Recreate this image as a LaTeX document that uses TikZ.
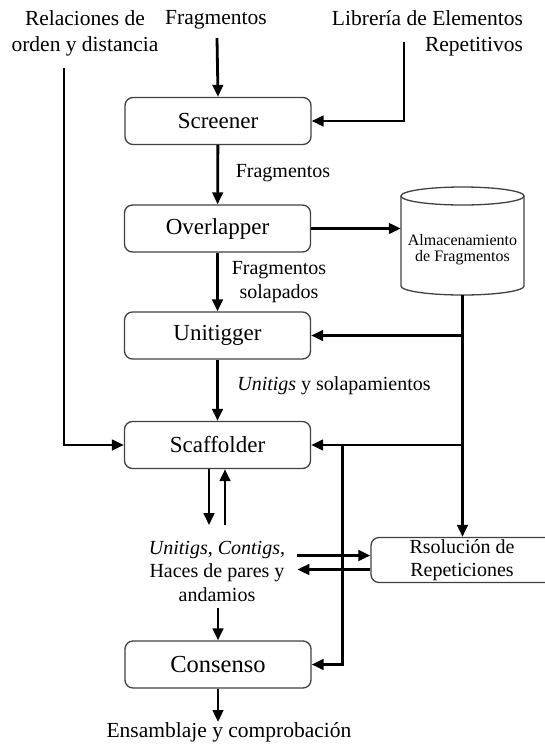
\documentclass[tikz,border=0pt]{standalone}
\usepackage{fontspec}
\setmainfont{Liberation Serif}
\usetikzlibrary{arrows.meta}
\begin{document}
\begin{tikzpicture}[x=1pt,y=-1pt,
  box/.style={draw=black!75, line width=1.3pt, rounded corners=8pt, minimum width=186pt, minimum height=47pt, inner sep=0pt, font=\fontsize{23}{26}\selectfont},
  lbl/.style={inner sep=0pt, font=\fontsize{20}{23.5}\selectfont, align=center},
  toplbl/.style={inner sep=0pt, font=\fontsize{21.5}{26.5}\selectfont},
  arr/.style={line width=2.8pt, -{Triangle[length=12pt,width=10.5pt]}},
  cylline/.style={draw=black!75, line width=1.3pt}]
\useasboundingbox (0,0) rectangle (545,745);

% top labels
\node[toplbl, align=center] (rel) at (85,33.5) {Relaciones de\\orden y distancia};
\node[toplbl] (frg) at (216,20) {Fragmentos};
\node[toplbl, align=right] (lib) at (427.5,33.5) {Librería de Elementos\\Repetitivos};
\coordinate (relbot) at (64,68);
\coordinate (frgbot) at (217,38);
\coordinate (libtop) at (404,42);

% boxes
\node[box] (scr) at (218,121) {Screener};
\node[box] (ovl) at (217.5,228.5) {Overlapper};
\node[box] (uni) at (217.5,335.5) {Unitigger};
\node[box] (sca) at (217.5,445) {Scaffolder};
\node[box, font=\fontsize{24.5}{26}\selectfont] (con) at (218,664.5) {Consenso};
\node[box, minimum width=182pt, minimum height=45pt, align=center, font=\fontsize{20}{23}\selectfont] (rs) at (462,560) {Rsolución de\\Repeticiones};

% cylinder
\node[minimum width=123pt, minimum height=108pt, inner sep=0pt] (cyl) at (462.5,241) {};
\draw[cylline] (401,196) -- (401,286) arc[start angle=180, end angle=360, x radius=61.5pt, y radius=9pt] -- (524,196);
\draw[cylline] (462.5,196) ellipse [x radius=61.5pt, y radius=9pt];
\node[inner sep=0pt, align=center, font=\fontsize{16}{16}\selectfont] (cyltxt) at (462.5,250) {Almacenamiento\\de Fragmentos};

% labels
\node[lbl] (l1) at (283,173) {Fragmentos};
\node[lbl] (l2) at (279,282) {Fragmentos\\solapados};
\node[lbl] (l3) at (334,386) {\textit{Unitigs} y solapamientos};
\node[lbl, inner xsep=12pt, inner ysep=0pt] (utx) at (217,571) {\textit{Unitigs}, \textit{Contigs},\\Haces de pares y\\andamios};
\node[toplbl] (ens) at (229,732) {Ensamblaje y comprobación};

% connectors
\draw[arr] (frgbot) -- (scr.north);
\draw[arr] (libtop) |- (scr.east);
\draw[arr] (relbot) |- (sca.west);
\draw[arr] (scr) -- (ovl);
\draw[arr] (ovl.east) -- (ovl.east -| cyl.west);
\draw[arr] (ovl) -- (uni);
\draw[arr] (uni) -- (sca);
\draw[arr] (cyl.south) -- (cyl.south |- rs.north);
\draw[arr] (cyl.south |- uni.east) -- (uni.east);
\draw[arr] (cyl.south |- sca.east) -- (sca.east);
\draw[arr] ([xshift=31pt]sca.east) |- (con.east);
\draw[arr] ([xshift=-8.5pt]sca.south) -- ([xshift=-8.5pt,yshift=-56pt]sca.south);
\draw[arr] ([xshift=7.5pt,yshift=-56pt]sca.south) -- ([xshift=7.5pt]sca.south);
\draw[arr] ([yshift=4.5pt]rs.west -| utx.east) -- ([yshift=4.5pt]rs.west);
\draw[arr] ([yshift=-9.5pt]rs.west) -- ([yshift=-9.5pt]rs.west -| utx.east);
\draw[arr] ([yshift=-7pt]utx.south -| con.north) -- (con.north);
\draw[arr] (con.south) -- (con.south |- ens.north);
\end{tikzpicture}
\end{document}
